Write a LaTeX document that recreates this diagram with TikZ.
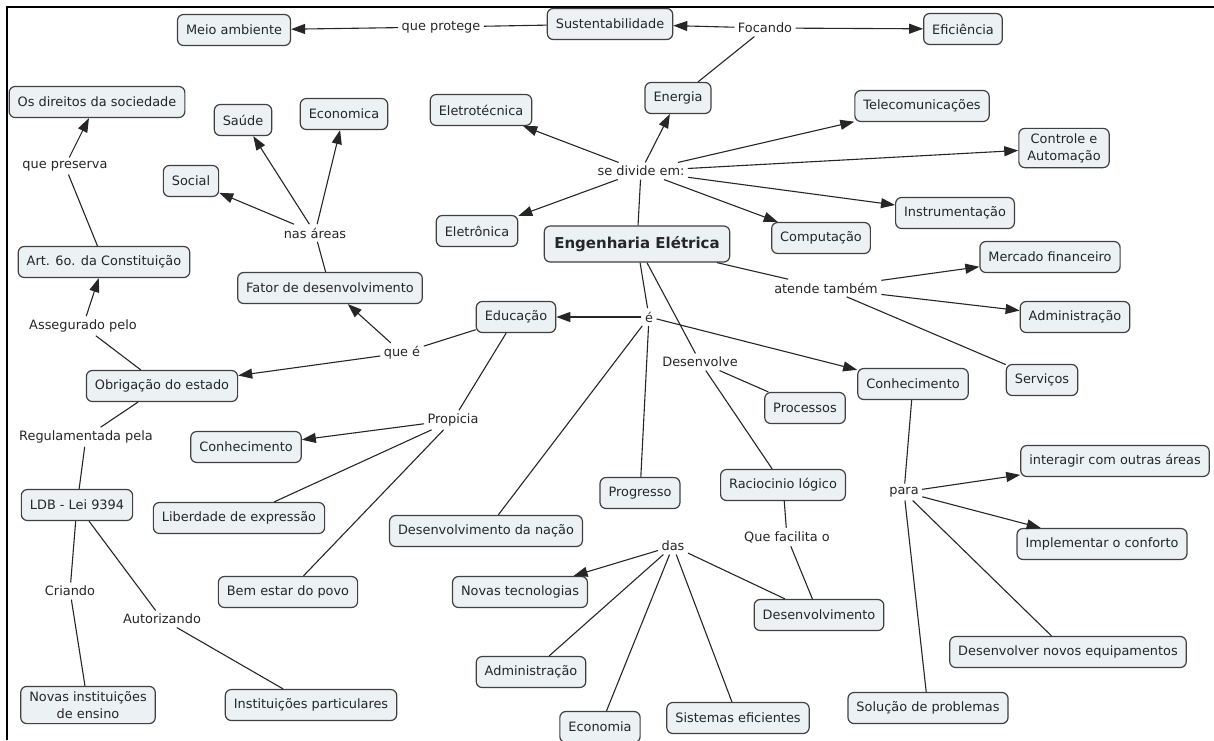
\documentclass[tikz,border=0pt]{standalone}
\usepackage{fontspec}
\setmainfont{DejaVu Sans}
\usepackage{xcolor}
\usepackage{tikz}
\usetikzlibrary{arrows}
\usetikzlibrary{arrows.meta}

\definecolor{fundo}{HTML}{ECF1F4}

\begin{document}
\begin{tikzpicture}[
        x=1pt, y=-1pt,
        color=black!85,
        line width=1.1pt,
        >={Triangle[length=14pt, width=10pt]},
        conceito/.style={draw=black!75, fill=fundo, line width=1.2pt, rounded corners=6pt,
            inner xsep=8.5pt, inner ysep=5pt, minimum height=31pt, align=center,
            font=\fontsize{12.9}{17}\selectfont},
        ligacao/.style={inner sep=3pt, font=\fontsize{12.9}{15}\selectfont}
    ]
    \useasboundingbox (0,0) rectangle (1214,740);

    % -- Cadre --
    \draw[line width=2.2pt, black] (7,740) -- (7,7) -- (1214,7);

    % -- Position des noeuds --
    \node[conceito] (meio) at (234,30) {Meio ambiente};
    \node[ligacao] (protege) at (441,27) {que protege};
    \node[conceito] (sust) at (610,24) {Sustentabilidade};
    \node[ligacao] (focando) at (765,28) {Focando};
    \node[conceito] (eficiencia) at (963,29) {Eficiência};
    \node[conceito] (energia) at (678,98) {Energia};
    \node[conceito] (eletrotec) at (481,110) {Eletrotécnica};
    \node[conceito] (telecom) at (922,106) {Telecomunicações};
    \node[conceito] (controle) at (1064,148) {Controle e\\Automação};
    \node[ligacao] (divide) at (641,171) {se divide em:};
    \node[conceito] (instrum) at (955,213) {Instrumentação};
    \node[conceito] (comput) at (821,238) {Computação};
    \node[conceito] (eletronica) at (477,231) {Eletrônica};
    \node[conceito, inner xsep=10pt, minimum height=36pt,
        font=\fontsize{15}{18}\selectfont\bfseries] (eng) at (637,244) {Engenharia Elétrica};
    \node[ligacao] (atende) at (826,288) {atende também};
    \node[conceito] (mercado) at (1050,257) {Mercado financeiro};
    \node[conceito] (admdir) at (1075,317) {Administração};
    \node[conceito] (servicos) at (1042,380) {Serviços};

    \node[conceito] (direitos) at (97,102) {Os direitos da sociedade};
    \node[conceito] (saude) at (243,120) {Saúde};
    \node[conceito] (economica) at (344,114) {Economica};
    \node[conceito] (social) at (191,181) {Social};
    \node[ligacao] (preserva) at (65,166) {que preserva};
    \node[ligacao] (areas) at (315,233) {nas áreas};
    \node[conceito] (art) at (104,262) {Art. 6o. da Constituição};
    \node[conceito] (fator) at (330,288) {Fator de desenvolvimento};
    \node[conceito] (educacao) at (516,317) {Educação};
    \node[ligacao] (e) at (649,317) {é};
    \node[ligacao] (assegurado) at (83,326) {Assegurado pelo};
    \node[ligacao] (quee) at (402,353) {que é};
    \node[conceito] (obrigacao) at (162,386) {Obrigação do estado};
    \node[ligacao] (desenvolve) at (700,362) {Desenvolve};
    \node[conceito] (conhecdir) at (913,384) {Conhecimento};
    \node[conceito] (processos) at (805,408) {Processos};
    \node[ligacao] (regulamentada) at (86,437) {Regulamentada pela};
    \node[ligacao] (propicia) at (453,420) {Propicia};
    \node[conceito] (conhecesq) at (246,447) {Conhecimento};
    \node[conceito] (progresso) at (640,493) {Progresso};
    \node[conceito] (raciocinio) at (783,485) {Raciocinio lógico};
    \node[ligacao] (para) at (904,492) {para};
    \node[conceito] (interagir) at (1115,461) {interagir com outras áreas};
    \node[conceito] (liberdade) at (239,518) {Liberdade de expressão};
    \node[conceito] (ldb) at (77,505) {LDB - Lei 9394};
    \node[conceito] (nacao) at (486,531) {Desenvolvimento da nação};
    \node[conceito] (conforto) at (1102,544) {Implementar o conforto};
    \node[ligacao] (facilita) at (787,537) {Que facilita o};
    \node[ligacao] (das) at (673,546) {das};
    \node[conceito] (novastec) at (520,592) {Novas tecnologias};
    \node[conceito] (desenv) at (819,615) {Desenvolvimento};
    \node[ligacao] (criando) at (70,591) {Criando};
    \node[ligacao] (autorizando) at (162,619) {Autorizando};
    \node[conceito] (bemestar) at (288,592) {Bem estar do povo};
    \node[conceito] (equipamentos) at (1068,652) {Desenvolver novos equipamentos};
    \node[conceito] (admbas) at (531,672) {Administração};
    \node[conceito] (novasinst) at (88,705) {Novas instituições\\de ensino};
    \node[conceito] (particulares) at (311,705) {Instituições particulares};
    \node[conceito] (economia) at (600,727) {Economia};
    \node[conceito] (sistemas) at (738,718) {Sistemas eficientes};
    \node[conceito] (solucao) at (928,708) {Solução de problemas};

    % -- Position des arcs --
    % sust -> meio :
    \draw (sust) -- (protege);
    \draw[->] (protege) -- (meio);

    % energia -> sust, eficiencia :
    \draw (energia) -- (focando);
    \draw[->] (focando) -- (sust);
    \draw[->] (focando) -- (eficiencia);

    % eng -> areas :
    \draw (eng) -- (divide);
    \draw[->] (divide) -- (eletrotec);
    \draw[->] (divide) -- (energia);
    \draw[->] (divide) -- (telecom);
    \draw[->] (divide) -- (controle);
    \draw[->] (divide) -- (instrum);
    \draw[->] (divide) -- (comput);
    \draw[->] (divide) -- (eletronica);

    % eng -> atende :
    \draw (eng) -- (atende);
    \draw[->] (atende) -- (mercado);
    \draw[->] (atende) -- (admdir);
    \draw (atende) -- (servicos);

    % eng -> e :
    \draw (eng) -- (e);
    \draw[->] (e) -- (educacao);
    \draw[->] (e) -- (conhecdir);
    \draw (e) -- (nacao);
    \draw (e) -- (progresso);

    % eng -> desenvolve :
    \draw (eng) -- (desenvolve);
    \draw (desenvolve) -- (processos);
    \draw (desenvolve) -- (raciocinio);

    % raciocinio -> desenv :
    \draw (raciocinio) -- (facilita);
    \draw (facilita) -- (desenv);

    % desenv -> das :
    \draw (desenv) -- (das);
    \draw[->] (das) -- (novastec);
    \draw (das) -- (admbas);
    \draw (das) -- (economia);
    \draw (das) -- (sistemas);

    % conhecdir -> para :
    \draw (conhecdir) -- (para);
    \draw[->] (para) -- (interagir);
    \draw[->] (para) -- (conforto);
    \draw (para) -- (equipamentos);
    \draw (para) -- (solucao);

    % educacao -> quee :
    \draw (educacao) -- (quee);
    \draw[->] (quee) -- (fator);
    \draw[->] (quee) -- (obrigacao);

    % fator -> areas :
    \draw (fator) -- (areas);
    \draw[->] (areas) -- (social);
    \draw[->] (areas) -- (saude);
    \draw[->] (areas) -- (economica);

    % educacao -> propicia :
    \draw (educacao) -- (propicia);
    \draw[->] (propicia) -- (conhecesq);
    \draw (propicia) -- (liberdade);
    \draw (propicia) -- (bemestar);

    % obrigacao -> art -> direitos :
    \draw (obrigacao) -- (assegurado);
    \draw[->] (assegurado) -- (art);
    \draw (art) -- (preserva);
    \draw[->] (preserva) -- (direitos);

    % obrigacao -> ldb :
    \draw (obrigacao) -- (regulamentada);
    \draw (regulamentada) -- (ldb);

    % ldb -> novasinst, particulares :
    \draw (ldb) -- (criando);
    \draw (criando) -- (novasinst);
    \draw (ldb) -- (autorizando);
    \draw (autorizando) -- (particulares);

\end{tikzpicture}
\end{document}
